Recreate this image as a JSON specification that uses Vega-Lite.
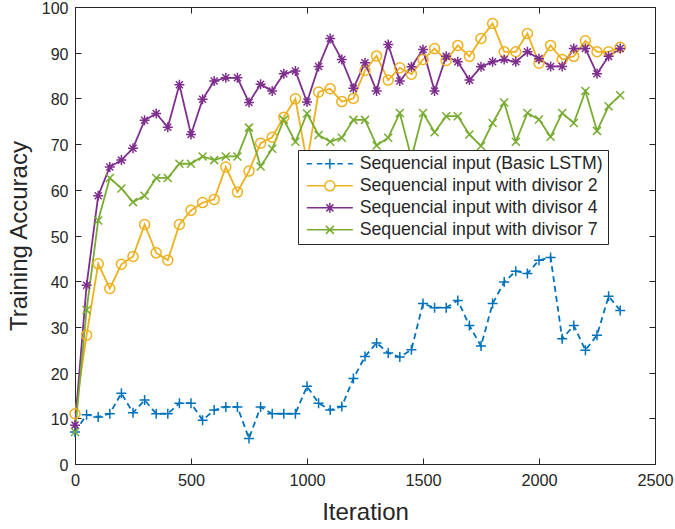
{
  "$schema": "https://vega.github.io/schema/vega-lite/v6.json",
  "autosize": {"type": "none"},
  "padding": {"left": 75, "top": 7, "right": 20, "bottom": 65},
  "width": 580,
  "height": 457,
  "background": "white",
  "config": {
    "font": "Liberation Sans",
    "view": {"stroke": null},
    "axis": {"grid": false, "domainColor": "#262626", "tickColor": "#262626", "labelColor": "#262626", "titleColor": "#262626", "titleFontWeight": "normal", "labelFont": "Liberation Sans", "titleFont": "Liberation Sans", "labelFlush": false, "labelOverlap": false, "domainWidth": 1, "tickWidth": 1}
  },
  "data": {"values": [
    {"iteration": 0, "series": "Sequencial input (Basic LSTM)", "accuracy": 7.0},
    {"iteration": 50, "series": "Sequencial input (Basic LSTM)", "accuracy": 10.8},
    {"iteration": 100, "series": "Sequencial input (Basic LSTM)", "accuracy": 10.3},
    {"iteration": 150, "series": "Sequencial input (Basic LSTM)", "accuracy": 11.0},
    {"iteration": 200, "series": "Sequencial input (Basic LSTM)", "accuracy": 15.5},
    {"iteration": 250, "series": "Sequencial input (Basic LSTM)", "accuracy": 11.2},
    {"iteration": 300, "series": "Sequencial input (Basic LSTM)", "accuracy": 14.0},
    {"iteration": 350, "series": "Sequencial input (Basic LSTM)", "accuracy": 11.0},
    {"iteration": 400, "series": "Sequencial input (Basic LSTM)", "accuracy": 11.0},
    {"iteration": 450, "series": "Sequencial input (Basic LSTM)", "accuracy": 13.3},
    {"iteration": 500, "series": "Sequencial input (Basic LSTM)", "accuracy": 13.3},
    {"iteration": 550, "series": "Sequencial input (Basic LSTM)", "accuracy": 9.6},
    {"iteration": 600, "series": "Sequencial input (Basic LSTM)", "accuracy": 11.8},
    {"iteration": 650, "series": "Sequencial input (Basic LSTM)", "accuracy": 12.5},
    {"iteration": 700, "series": "Sequencial input (Basic LSTM)", "accuracy": 12.5},
    {"iteration": 750, "series": "Sequencial input (Basic LSTM)", "accuracy": 5.6},
    {"iteration": 800, "series": "Sequencial input (Basic LSTM)", "accuracy": 12.5},
    {"iteration": 850, "series": "Sequencial input (Basic LSTM)", "accuracy": 11.0},
    {"iteration": 900, "series": "Sequencial input (Basic LSTM)", "accuracy": 11.0},
    {"iteration": 950, "series": "Sequencial input (Basic LSTM)", "accuracy": 11.0},
    {"iteration": 1000, "series": "Sequencial input (Basic LSTM)", "accuracy": 17.0},
    {"iteration": 1050, "series": "Sequencial input (Basic LSTM)", "accuracy": 13.3},
    {"iteration": 1100, "series": "Sequencial input (Basic LSTM)", "accuracy": 11.8},
    {"iteration": 1150, "series": "Sequencial input (Basic LSTM)", "accuracy": 12.6},
    {"iteration": 1200, "series": "Sequencial input (Basic LSTM)", "accuracy": 18.7},
    {"iteration": 1250, "series": "Sequencial input (Basic LSTM)", "accuracy": 23.5},
    {"iteration": 1300, "series": "Sequencial input (Basic LSTM)", "accuracy": 26.5},
    {"iteration": 1350, "series": "Sequencial input (Basic LSTM)", "accuracy": 24.3},
    {"iteration": 1400, "series": "Sequencial input (Basic LSTM)", "accuracy": 23.4},
    {"iteration": 1450, "series": "Sequencial input (Basic LSTM)", "accuracy": 25.0},
    {"iteration": 1500, "series": "Sequencial input (Basic LSTM)", "accuracy": 35.1},
    {"iteration": 1550, "series": "Sequencial input (Basic LSTM)", "accuracy": 34.2},
    {"iteration": 1600, "series": "Sequencial input (Basic LSTM)", "accuracy": 34.2},
    {"iteration": 1650, "series": "Sequencial input (Basic LSTM)", "accuracy": 35.8},
    {"iteration": 1700, "series": "Sequencial input (Basic LSTM)", "accuracy": 30.3},
    {"iteration": 1750, "series": "Sequencial input (Basic LSTM)", "accuracy": 25.8},
    {"iteration": 1800, "series": "Sequencial input (Basic LSTM)", "accuracy": 35.1},
    {"iteration": 1850, "series": "Sequencial input (Basic LSTM)", "accuracy": 39.8},
    {"iteration": 1900, "series": "Sequencial input (Basic LSTM)", "accuracy": 42.2},
    {"iteration": 1950, "series": "Sequencial input (Basic LSTM)", "accuracy": 41.7},
    {"iteration": 2000, "series": "Sequencial input (Basic LSTM)", "accuracy": 44.6},
    {"iteration": 2050, "series": "Sequencial input (Basic LSTM)", "accuracy": 45.2},
    {"iteration": 2100, "series": "Sequencial input (Basic LSTM)", "accuracy": 27.4},
    {"iteration": 2150, "series": "Sequencial input (Basic LSTM)", "accuracy": 30.3},
    {"iteration": 2200, "series": "Sequencial input (Basic LSTM)", "accuracy": 24.9},
    {"iteration": 2250, "series": "Sequencial input (Basic LSTM)", "accuracy": 28.2},
    {"iteration": 2300, "series": "Sequencial input (Basic LSTM)", "accuracy": 36.7},
    {"iteration": 2350, "series": "Sequencial input (Basic LSTM)", "accuracy": 33.6},
    {"iteration": 0, "series": "Sequencial input with divisor 2", "accuracy": 11.0},
    {"iteration": 50, "series": "Sequencial input with divisor 2", "accuracy": 28.2},
    {"iteration": 100, "series": "Sequencial input with divisor 2", "accuracy": 43.8},
    {"iteration": 150, "series": "Sequencial input with divisor 2", "accuracy": 38.4},
    {"iteration": 200, "series": "Sequencial input with divisor 2", "accuracy": 43.7},
    {"iteration": 250, "series": "Sequencial input with divisor 2", "accuracy": 45.4},
    {"iteration": 300, "series": "Sequencial input with divisor 2", "accuracy": 52.4},
    {"iteration": 350, "series": "Sequencial input with divisor 2", "accuracy": 46.2},
    {"iteration": 400, "series": "Sequencial input with divisor 2", "accuracy": 44.6},
    {"iteration": 450, "series": "Sequencial input with divisor 2", "accuracy": 52.4},
    {"iteration": 500, "series": "Sequencial input with divisor 2", "accuracy": 55.5},
    {"iteration": 550, "series": "Sequencial input with divisor 2", "accuracy": 57.2},
    {"iteration": 600, "series": "Sequencial input with divisor 2", "accuracy": 57.9},
    {"iteration": 650, "series": "Sequencial input with divisor 2", "accuracy": 65.0},
    {"iteration": 700, "series": "Sequencial input with divisor 2", "accuracy": 59.5},
    {"iteration": 750, "series": "Sequencial input with divisor 2", "accuracy": 64.1},
    {"iteration": 800, "series": "Sequencial input with divisor 2", "accuracy": 70.2},
    {"iteration": 850, "series": "Sequencial input with divisor 2", "accuracy": 71.5},
    {"iteration": 900, "series": "Sequencial input with divisor 2", "accuracy": 75.9},
    {"iteration": 950, "series": "Sequencial input with divisor 2", "accuracy": 79.9},
    {"iteration": 1000, "series": "Sequencial input with divisor 2", "accuracy": 66.0},
    {"iteration": 1050, "series": "Sequencial input with divisor 2", "accuracy": 81.4},
    {"iteration": 1100, "series": "Sequencial input with divisor 2", "accuracy": 82.1},
    {"iteration": 1150, "series": "Sequencial input with divisor 2", "accuracy": 79.3},
    {"iteration": 1200, "series": "Sequencial input with divisor 2", "accuracy": 80.0},
    {"iteration": 1250, "series": "Sequencial input with divisor 2", "accuracy": 86.1},
    {"iteration": 1300, "series": "Sequencial input with divisor 2", "accuracy": 89.3},
    {"iteration": 1350, "series": "Sequencial input with divisor 2", "accuracy": 84.0},
    {"iteration": 1400, "series": "Sequencial input with divisor 2", "accuracy": 86.7},
    {"iteration": 1450, "series": "Sequencial input with divisor 2", "accuracy": 85.3},
    {"iteration": 1500, "series": "Sequencial input with divisor 2", "accuracy": 88.5},
    {"iteration": 1550, "series": "Sequencial input with divisor 2", "accuracy": 90.9},
    {"iteration": 1600, "series": "Sequencial input with divisor 2", "accuracy": 88.3},
    {"iteration": 1650, "series": "Sequencial input with divisor 2", "accuracy": 91.6},
    {"iteration": 1700, "series": "Sequencial input with divisor 2", "accuracy": 89.2},
    {"iteration": 1750, "series": "Sequencial input with divisor 2", "accuracy": 93.1},
    {"iteration": 1800, "series": "Sequencial input with divisor 2", "accuracy": 96.4},
    {"iteration": 1850, "series": "Sequencial input with divisor 2", "accuracy": 90.2},
    {"iteration": 1900, "series": "Sequencial input with divisor 2", "accuracy": 90.2},
    {"iteration": 1950, "series": "Sequencial input with divisor 2", "accuracy": 94.2},
    {"iteration": 2000, "series": "Sequencial input with divisor 2", "accuracy": 87.7},
    {"iteration": 2050, "series": "Sequencial input with divisor 2", "accuracy": 91.6},
    {"iteration": 2100, "series": "Sequencial input with divisor 2", "accuracy": 88.5},
    {"iteration": 2150, "series": "Sequencial input with divisor 2", "accuracy": 89.2},
    {"iteration": 2200, "series": "Sequencial input with divisor 2", "accuracy": 92.6},
    {"iteration": 2250, "series": "Sequencial input with divisor 2", "accuracy": 90.2},
    {"iteration": 2300, "series": "Sequencial input with divisor 2", "accuracy": 90.2},
    {"iteration": 2350, "series": "Sequencial input with divisor 2", "accuracy": 91.2},
    {"iteration": 0, "series": "Sequencial input with divisor 4", "accuracy": 8.5},
    {"iteration": 50, "series": "Sequencial input with divisor 4", "accuracy": 39.1},
    {"iteration": 100, "series": "Sequencial input with divisor 4", "accuracy": 58.7},
    {"iteration": 150, "series": "Sequencial input with divisor 4", "accuracy": 65.0},
    {"iteration": 200, "series": "Sequencial input with divisor 4", "accuracy": 66.5},
    {"iteration": 250, "series": "Sequencial input with divisor 4", "accuracy": 69.1},
    {"iteration": 300, "series": "Sequencial input with divisor 4", "accuracy": 75.2},
    {"iteration": 350, "series": "Sequencial input with divisor 4", "accuracy": 76.7},
    {"iteration": 400, "series": "Sequencial input with divisor 4", "accuracy": 73.7},
    {"iteration": 450, "series": "Sequencial input with divisor 4", "accuracy": 83.0},
    {"iteration": 500, "series": "Sequencial input with divisor 4", "accuracy": 72.1},
    {"iteration": 550, "series": "Sequencial input with divisor 4", "accuracy": 79.8},
    {"iteration": 600, "series": "Sequencial input with divisor 4", "accuracy": 83.8},
    {"iteration": 650, "series": "Sequencial input with divisor 4", "accuracy": 84.5},
    {"iteration": 700, "series": "Sequencial input with divisor 4", "accuracy": 84.5},
    {"iteration": 750, "series": "Sequencial input with divisor 4", "accuracy": 79.1},
    {"iteration": 800, "series": "Sequencial input with divisor 4", "accuracy": 83.1},
    {"iteration": 850, "series": "Sequencial input with divisor 4", "accuracy": 81.6},
    {"iteration": 900, "series": "Sequencial input with divisor 4", "accuracy": 85.4},
    {"iteration": 950, "series": "Sequencial input with divisor 4", "accuracy": 86.0},
    {"iteration": 1000, "series": "Sequencial input with divisor 4", "accuracy": 79.2},
    {"iteration": 1050, "series": "Sequencial input with divisor 4", "accuracy": 87.0},
    {"iteration": 1100, "series": "Sequencial input with divisor 4", "accuracy": 93.1},
    {"iteration": 1150, "series": "Sequencial input with divisor 4", "accuracy": 88.5},
    {"iteration": 1200, "series": "Sequencial input with divisor 4", "accuracy": 82.2},
    {"iteration": 1250, "series": "Sequencial input with divisor 4", "accuracy": 87.8},
    {"iteration": 1300, "series": "Sequencial input with divisor 4", "accuracy": 81.6},
    {"iteration": 1350, "series": "Sequencial input with divisor 4", "accuracy": 91.8},
    {"iteration": 1400, "series": "Sequencial input with divisor 4", "accuracy": 83.8},
    {"iteration": 1450, "series": "Sequencial input with divisor 4", "accuracy": 86.9},
    {"iteration": 1500, "series": "Sequencial input with divisor 4", "accuracy": 90.7},
    {"iteration": 1550, "series": "Sequencial input with divisor 4", "accuracy": 81.6},
    {"iteration": 1600, "series": "Sequencial input with divisor 4", "accuracy": 89.2},
    {"iteration": 1650, "series": "Sequencial input with divisor 4", "accuracy": 88.0},
    {"iteration": 1700, "series": "Sequencial input with divisor 4", "accuracy": 84.0},
    {"iteration": 1750, "series": "Sequencial input with divisor 4", "accuracy": 86.9},
    {"iteration": 1800, "series": "Sequencial input with divisor 4", "accuracy": 88.0},
    {"iteration": 1850, "series": "Sequencial input with divisor 4", "accuracy": 88.5},
    {"iteration": 1900, "series": "Sequencial input with divisor 4", "accuracy": 88.0},
    {"iteration": 1950, "series": "Sequencial input with divisor 4", "accuracy": 90.2},
    {"iteration": 2000, "series": "Sequencial input with divisor 4", "accuracy": 88.7},
    {"iteration": 2050, "series": "Sequencial input with divisor 4", "accuracy": 87.0},
    {"iteration": 2100, "series": "Sequencial input with divisor 4", "accuracy": 87.0},
    {"iteration": 2150, "series": "Sequencial input with divisor 4", "accuracy": 90.9},
    {"iteration": 2200, "series": "Sequencial input with divisor 4", "accuracy": 90.9},
    {"iteration": 2250, "series": "Sequencial input with divisor 4", "accuracy": 85.4},
    {"iteration": 2300, "series": "Sequencial input with divisor 4", "accuracy": 89.2},
    {"iteration": 2350, "series": "Sequencial input with divisor 4", "accuracy": 90.9},
    {"iteration": 0, "series": "Sequencial input with divisor 7", "accuracy": 7.0},
    {"iteration": 50, "series": "Sequencial input with divisor 7", "accuracy": 33.7},
    {"iteration": 100, "series": "Sequencial input with divisor 7", "accuracy": 53.3},
    {"iteration": 150, "series": "Sequencial input with divisor 7", "accuracy": 62.6},
    {"iteration": 200, "series": "Sequencial input with divisor 7", "accuracy": 60.3},
    {"iteration": 250, "series": "Sequencial input with divisor 7", "accuracy": 57.3},
    {"iteration": 300, "series": "Sequencial input with divisor 7", "accuracy": 58.7},
    {"iteration": 350, "series": "Sequencial input with divisor 7", "accuracy": 62.6},
    {"iteration": 400, "series": "Sequencial input with divisor 7", "accuracy": 62.6},
    {"iteration": 450, "series": "Sequencial input with divisor 7", "accuracy": 65.7},
    {"iteration": 500, "series": "Sequencial input with divisor 7", "accuracy": 65.7},
    {"iteration": 550, "series": "Sequencial input with divisor 7", "accuracy": 67.3},
    {"iteration": 600, "series": "Sequencial input with divisor 7", "accuracy": 66.5},
    {"iteration": 650, "series": "Sequencial input with divisor 7", "accuracy": 67.3},
    {"iteration": 700, "series": "Sequencial input with divisor 7", "accuracy": 67.3},
    {"iteration": 750, "series": "Sequencial input with divisor 7", "accuracy": 73.6},
    {"iteration": 800, "series": "Sequencial input with divisor 7", "accuracy": 65.1},
    {"iteration": 850, "series": "Sequencial input with divisor 7", "accuracy": 69.0},
    {"iteration": 900, "series": "Sequencial input with divisor 7", "accuracy": 75.3},
    {"iteration": 950, "series": "Sequencial input with divisor 7", "accuracy": 70.5},
    {"iteration": 1000, "series": "Sequencial input with divisor 7", "accuracy": 76.7},
    {"iteration": 1050, "series": "Sequencial input with divisor 7", "accuracy": 72.0},
    {"iteration": 1100, "series": "Sequencial input with divisor 7", "accuracy": 70.5},
    {"iteration": 1150, "series": "Sequencial input with divisor 7", "accuracy": 71.4},
    {"iteration": 1200, "series": "Sequencial input with divisor 7", "accuracy": 75.3},
    {"iteration": 1250, "series": "Sequencial input with divisor 7", "accuracy": 75.3},
    {"iteration": 1300, "series": "Sequencial input with divisor 7", "accuracy": 69.7},
    {"iteration": 1350, "series": "Sequencial input with divisor 7", "accuracy": 71.4},
    {"iteration": 1400, "series": "Sequencial input with divisor 7", "accuracy": 76.8},
    {"iteration": 1450, "series": "Sequencial input with divisor 7", "accuracy": 67.0},
    {"iteration": 1500, "series": "Sequencial input with divisor 7", "accuracy": 76.8},
    {"iteration": 1550, "series": "Sequencial input with divisor 7", "accuracy": 72.6},
    {"iteration": 1600, "series": "Sequencial input with divisor 7", "accuracy": 76.1},
    {"iteration": 1650, "series": "Sequencial input with divisor 7", "accuracy": 76.1},
    {"iteration": 1700, "series": "Sequencial input with divisor 7", "accuracy": 72.1},
    {"iteration": 1750, "series": "Sequencial input with divisor 7", "accuracy": 69.6},
    {"iteration": 1800, "series": "Sequencial input with divisor 7", "accuracy": 74.6},
    {"iteration": 1850, "series": "Sequencial input with divisor 7", "accuracy": 79.1},
    {"iteration": 1900, "series": "Sequencial input with divisor 7", "accuracy": 70.5},
    {"iteration": 1950, "series": "Sequencial input with divisor 7", "accuracy": 76.8},
    {"iteration": 2000, "series": "Sequencial input with divisor 7", "accuracy": 75.4},
    {"iteration": 2050, "series": "Sequencial input with divisor 7", "accuracy": 71.6},
    {"iteration": 2100, "series": "Sequencial input with divisor 7", "accuracy": 76.8},
    {"iteration": 2150, "series": "Sequencial input with divisor 7", "accuracy": 74.6},
    {"iteration": 2200, "series": "Sequencial input with divisor 7", "accuracy": 81.6},
    {"iteration": 2250, "series": "Sequencial input with divisor 7", "accuracy": 72.9},
    {"iteration": 2300, "series": "Sequencial input with divisor 7", "accuracy": 78.3},
    {"iteration": 2350, "series": "Sequencial input with divisor 7", "accuracy": 80.7}
  ]},
  "resolve": {"axis": {"x": "independent", "y": "independent"}, "scale": {"shape": "independent", "color": "independent"}},
  "layer": [
    {
      "mark": {"type": "line", "strokeWidth": 1.8},
      "encoding": {
        "x": {"field": "iteration", "type": "quantitative", "scale": {"domain": [0, 2500], "nice": false, "zero": false},
              "axis": {"title": "Iteration", "format": "d", "values": [0, 500, 1000, 1500, 2000, 2500], "tickSize": -6, "labelPadding": 14, "labelFontSize": 16.3, "titleFontSize": 24, "titlePadding": 12}},
        "y": {"field": "accuracy", "type": "quantitative", "scale": {"domain": [0, 100], "nice": false},
              "axis": {"title": "Training Accuracy", "format": "d", "values": [0, 10, 20, 30, 40, 50, 60, 70, 80, 90, 100], "tickSize": -6, "labelPadding": 13, "labelOffset": 1.5, "labelFontSize": 16, "titleFontSize": 24, "titlePadding": 10}},
        "color": {"field": "series", "type": "nominal", "legend": null,
                  "scale": {"domain": ["Sequencial input (Basic LSTM)", "Sequencial input with divisor 2", "Sequencial input with divisor 4", "Sequencial input with divisor 7"], "range": ["#0072BD", "#EDB120", "#7E2F8E", "#77AC30"]}},
        "strokeDash": {"field": "series", "type": "nominal", "legend": null,
                       "scale": {"domain": ["Sequencial input (Basic LSTM)", "Sequencial input with divisor 2", "Sequencial input with divisor 4", "Sequencial input with divisor 7"], "range": [[6, 4], [1, 0], [1, 0], [1, 0]]}}
      }
    },
    {
      "mark": {"type": "point", "filled": false, "size": 100, "strokeWidth": 1.5, "opacity": 1},
      "encoding": {
        "x": {"field": "iteration", "type": "quantitative", "axis": null},
        "y": {"field": "accuracy", "type": "quantitative", "axis": null},
        "color": {"field": "series", "type": "nominal", "legend": null,
                  "scale": {"domain": ["Sequencial input (Basic LSTM)", "Sequencial input with divisor 2", "Sequencial input with divisor 4", "Sequencial input with divisor 7"], "range": ["#0072BD", "#EDB120", "#7E2F8E", "#77AC30"]}},
        "shape": {"field": "series", "type": "nominal", "legend": null,
                  "scale": {"domain": ["Sequencial input (Basic LSTM)", "Sequencial input with divisor 2", "Sequencial input with divisor 4", "Sequencial input with divisor 7"], "range": ["M-1,0H1M0,-1V1", "circle", "M-1,0H1M0,-1V1M-0.7,-0.7L0.7,0.7M-0.7,0.7L0.7,-0.7", "M-0.8,-0.8L0.8,0.8M-0.8,0.8L0.8,-0.8"]}}
      }
    },
    {
      "mark": {"type": "point", "filled": false, "opacity": 0, "size": 100, "strokeWidth": 1.5},
      "encoding": {
        "x": {"field": "iteration", "type": "quantitative", "axis": {"orient": "top", "labels": false, "title": null, "values": [0, 500, 1000, 1500, 2000, 2500], "tickSize": -6}},
        "y": {"field": "accuracy", "type": "quantitative", "axis": {"orient": "right", "labels": false, "title": null, "values": [0, 10, 20, 30, 40, 50, 60, 70, 80, 90, 100], "tickSize": -6}},
        "color": {"field": "series", "type": "nominal",
                  "scale": {"domain": ["Sequencial input (Basic LSTM)", "Sequencial input with divisor 2", "Sequencial input with divisor 4", "Sequencial input with divisor 7"], "range": ["#0072BD", "#EDB120", "#7E2F8E", "#77AC30"]},
                  "legend": {"title": null, "orient": "none", "legendX": 223, "legendY": 143, "labelFont": "Liberation Sans", "labelFontSize": 17.7, "labelColor": "#262626", "fillColor": "white", "strokeColor": "#262626", "padding": 5, "rowPadding": 3, "symbolSize": 100, "symbolStrokeWidth": 1.5, "symbolOpacity": 1, "symbolOffset": 18, "labelOffset": 21, "labelLimit": 400}},
        "shape": {"field": "series", "type": "nominal",
                  "scale": {"domain": ["Sequencial input (Basic LSTM)", "Sequencial input with divisor 2", "Sequencial input with divisor 4", "Sequencial input with divisor 7"], "range": ["M-4.6,0H-3.6M-2.6,0H-1.5M1.5,0H2.6M3.6,0H4.6M-1,0H1M0,-1V1", "M-4.6,0H-1M1,0H4.6M-1,0A1,1 0 1 1 1,0A1,1 0 1 1 -1,0", "M-4.6,0H4.6M0,-1V1M-0.7,-0.7L0.7,0.7M-0.7,0.7L0.7,-0.7", "M-4.6,0H4.6M-0.8,-0.8L0.8,0.8M-0.8,0.8L0.8,-0.8"]},
                  "legend": {"title": null, "orient": "none", "legendX": 223, "legendY": 143, "labelFont": "Liberation Sans", "labelFontSize": 17.7, "labelColor": "#262626", "fillColor": "white", "strokeColor": "#262626", "padding": 5, "rowPadding": 3, "symbolSize": 100, "symbolStrokeWidth": 1.5, "symbolOpacity": 1, "symbolOffset": 18, "labelOffset": 21, "labelLimit": 400}}
      }
    }
  ]
}
